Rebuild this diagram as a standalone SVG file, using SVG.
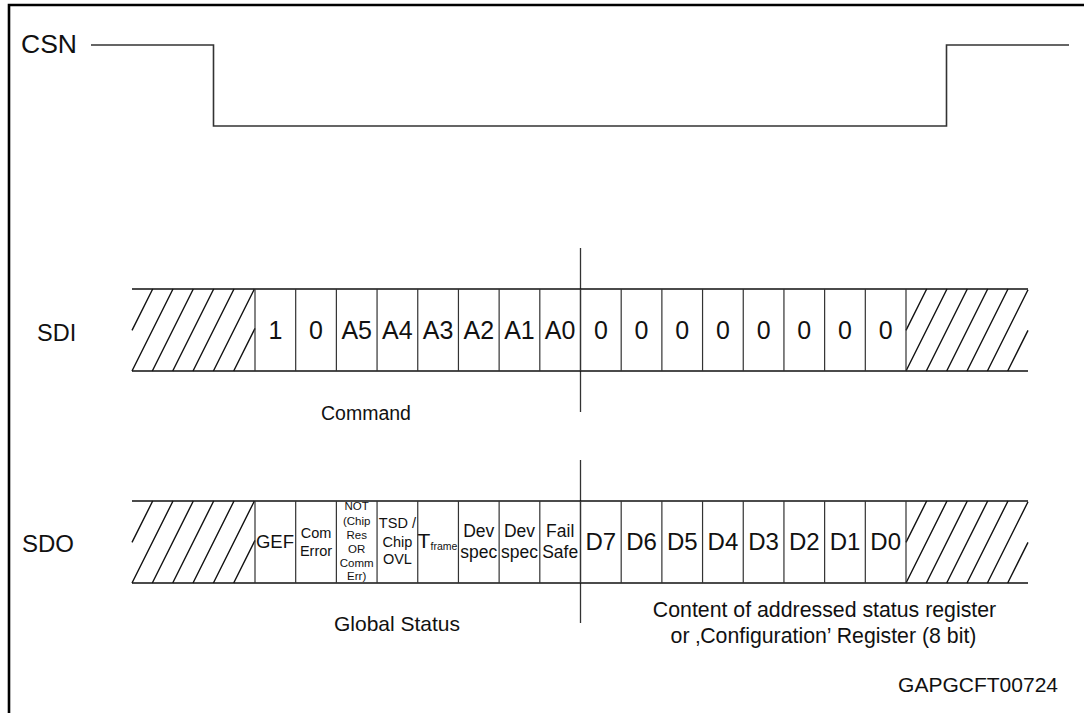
<svg xmlns="http://www.w3.org/2000/svg" xmlns:xlink="http://www.w3.org/1999/xlink" width="1084" height="713" viewBox="0 0 1084 713">
<style>
text{font-family:"Liberation Sans",Arial,Helvetica,sans-serif;fill:#111}
.bit{font-size:25px;text-anchor:middle}
.dbit{font-size:24px;text-anchor:middle}
.cap{font-size:21.3px;text-anchor:middle}
.s18{font-size:18.5px;text-anchor:middle}
.s17{font-size:17.5px;text-anchor:middle}
.s14{font-size:14.5px;text-anchor:middle}
.s11{font-size:11.5px;text-anchor:middle}
.row{stroke:#111;stroke-width:1.3;fill:none}
.cell{stroke:#333;stroke-width:1.2;fill:none}
.hatch{stroke:#111;stroke-width:1.4;fill:none}
.div{stroke:#333;stroke-width:1.3}
.sig{stroke:#333;stroke-width:1.6;fill:none}
.frame{stroke:#000;stroke-width:2.6;fill:none}
</style>
<defs>
<g id="hatchL" class="hatch">
<path d="M132,330.4L152.7,289M132,371L173,289M152.3,371L193.3,289M172.7,371L213.7,289M193,371L234,289M213.4,371L254.4,289M233.7,371L255,328.4"/>
</g>
<g id="hatchR" class="hatch">
<path d="M906,330.4L926.7,289M906,371L947,289M926.3,371L967.3,289M946.7,371L987.7,289M967,371L1008,289M987.4,371L1028,289.8M1007.7,371L1028,330.4"/>
</g>
<g id="cells" class="cell">
<path d="M255,289V371M295.69,289V371M336.38,289V371M377.06,289V371M417.75,289V371M458.44,289V371M499.13,289V371M539.81,289V371M580.5,289V371M621.19,289V371M661.88,289V371M702.56,289V371M743.25,289V371M783.94,289V371M824.63,289V371M865.31,289V371M906,289V371"/>
</g>
</defs>

<path class="frame" d="M9,713V5H1084"/>

<g id="csn">
<text x="21" y="53" style="font-size:26.5px">CSN</text>
</g>

<g id="connectors">
<path id="csn-wave" class="sig" d="M91,45H213.5V126H946.5V45H1069"/>
<line class="div" x1="580.5" y1="248" x2="580.5" y2="412"/>
<line class="div" x1="580.5" y1="460" x2="580.5" y2="623"/>
</g>

<g id="sdi">
<text x="37" y="341" style="font-size:23.5px">SDI</text>
<path class="row" d="M132,289H1028M132,371H1028"/>
<use xlink:href="#hatchL"/>
<use xlink:href="#hatchR"/>
<use xlink:href="#cells"/>
<g id="sdi-bits">
<text class="bit" x="275.34" y="338.5">1</text>
<text class="bit" x="316.03" y="338.5">0</text>
<text class="bit" x="356.72" y="338.5">A5</text>
<text class="bit" x="397.41" y="338.5">A4</text>
<text class="bit" x="438.09" y="338.5">A3</text>
<text class="bit" x="478.78" y="338.5">A2</text>
<text class="bit" x="519.47" y="338.5">A1</text>
<text class="bit" x="560.16" y="338.5">A0</text>
<text class="bit" x="600.84" y="338.5">0</text>
<text class="bit" x="641.53" y="338.5">0</text>
<text class="bit" x="682.22" y="338.5">0</text>
<text class="bit" x="722.91" y="338.5">0</text>
<text class="bit" x="763.59" y="338.5">0</text>
<text class="bit" x="804.28" y="338.5">0</text>
<text class="bit" x="844.97" y="338.5">0</text>
<text class="bit" x="885.66" y="338.5">0</text>
</g>
<text x="366" y="420" style="font-size:19.5px;text-anchor:middle">Command</text>
</g>

<g id="sdo">
<text x="22" y="552" style="font-size:24px">SDO</text>
<path class="row" d="M132,501H1028M132,583H1028"/>
<g transform="translate(0,212)">
<use xlink:href="#hatchL"/>
<use xlink:href="#hatchR"/>
<use xlink:href="#cells"/>
</g>
<g id="sdo-gef"><text class="s18" x="275" y="548">GEF</text></g>
<g id="sdo-comerr"><text class="s14" x="316" y="538">Com</text><text class="s14" x="316" y="555.5">Error</text></g>
<g id="sdo-not">
<text class="s11" x="356.7" y="510">NOT</text>
<text class="s11" x="356.7" y="525">(Chip</text>
<text class="s11" x="356.7" y="539">Res</text>
<text class="s11" x="356.7" y="553">OR</text>
<text class="s11" x="356.7" y="567">Comm</text>
<text class="s11" x="356.7" y="580">Err)</text>
</g>
<g id="sdo-tsd">
<text class="s14" x="397.4" y="528">TSD /</text>
<text class="s14" x="397.4" y="546.5">Chip</text>
<text class="s14" x="397.4" y="563.5">OVL</text>
</g>
<g id="sdo-tframe"><text x="417.5" y="548" style="font-size:21px">T<tspan x="430.5" dy="1.5" style="font-size:10.5px">frame</tspan></text></g>
<g id="sdo-dev1"><text class="s17" x="478.8" y="536.5">Dev</text><text class="s17" x="478.8" y="557.5">spec</text></g>
<g id="sdo-dev2"><text class="s17" x="519.5" y="536.5">Dev</text><text class="s17" x="519.5" y="557.5">spec</text></g>
<g id="sdo-failsafe"><text class="s17" x="560.2" y="536.5">Fail</text><text class="s17" x="560.2" y="557.5">Safe</text></g>
<g id="sdo-data">
<text class="dbit" x="600.84" y="550">D7</text>
<text class="dbit" x="641.53" y="550">D6</text>
<text class="dbit" x="682.22" y="550">D5</text>
<text class="dbit" x="722.91" y="550">D4</text>
<text class="dbit" x="763.59" y="550">D3</text>
<text class="dbit" x="804.28" y="550">D2</text>
<text class="dbit" x="844.97" y="550">D1</text>
<text class="dbit" x="885.66" y="550">D0</text>
</g>
<text class="cap" x="397" y="631" style="font-size:21px">Global Status</text>
<text class="cap" x="824.5" y="617">Content of addressed status register</text>
<text class="cap" x="823.5" y="643">or ‚Configuration’ Register (8 bit)</text>
</g>

<text id="fig-id" x="1058" y="692" style="font-size:21px;text-anchor:end">GAPGCFT00724</text>
</svg>
